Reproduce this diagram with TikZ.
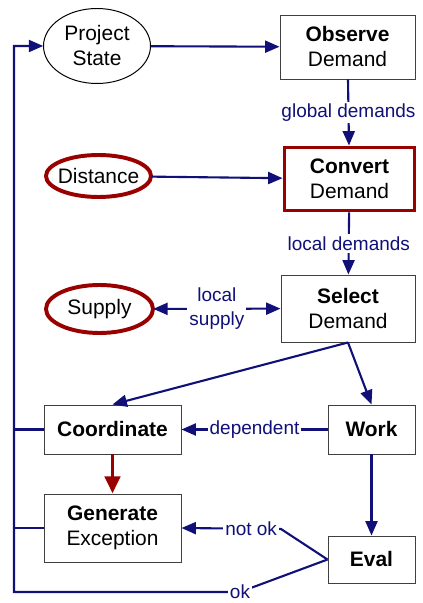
\documentclass[tikz,border=0pt]{standalone}
\usepackage{fontspec}
\setmainfont{Liberation Sans}
\usetikzlibrary{arrows.meta}
\definecolor{flownavy}{RGB}{16,16,120}
\definecolor{alertred}{RGB}{153,0,0}
\definecolor{boxgray}{RGB}{64,64,64}
\begin{document}
\begin{tikzpicture}[
    every node/.style={font=\fontsize{14.9}{17.8}\selectfont, align=center},
    box/.style={draw=boxgray, line width=0.7pt, rectangle, inner sep=0pt},
    blob/.style={rectangle, inner sep=0pt},
    hot/.style={draw=alertred, line width=2.8pt},
    flow/.style={draw=flownavy, line width=1.5pt, -{Triangle[length=3.6mm,width=3mm]}},
    link/.style={draw=flownavy, line width=1.5pt},
    lbl/.style={fill=white, text=flownavy, inner sep=1.5pt, font=\fontsize{13.5}{16}\selectfont}
  ]
        \useasboundingbox (0,0) rectangle (10.55,-15.075);
        % Nodes
        \node (state) at (2.425,-1.15) [blob, minimum width=2.675cm, minimum height=1.875cm] {Project\\State};
        \node (observe) at (8.6875,-1.175) [box, minimum width=3.375cm, minimum height=1.6cm] {\textbf{Observe}\\Demand};
        \node (distance) at (2.4625,-4.4) [blob, minimum width=2.625cm, minimum height=1.05cm] {Distance};
        \node (convert) at (8.7375,-4.475) [box, hot, minimum width=3.25cm, minimum height=1.575cm] {\textbf{Convert}\\Demand};
        \node (supply) at (2.4875,-7.725) [blob, minimum width=2.675cm, minimum height=1.2cm] {Supply};
        \node (select) at (8.7,-7.7125) [box, minimum width=3.35cm, minimum height=1.675cm] {\textbf{Select}\\Demand};
        \node (coord) at (2.8125,-10.7375) [box, minimum width=3.425cm, minimum height=1.225cm] {\textbf{Coordinate}};
        \node (work) at (9.2875,-10.7375) [box, minimum width=2.175cm, minimum height=1.225cm] {\textbf{Work}};
        \node (gen) at (2.8125,-13.2) [box, minimum width=3.425cm, minimum height=1.7cm] {\textbf{Generate}\\Exception};
        \node (eval) at (9.2875,-13.9875) [box, minimum width=2.175cm, minimum height=1.175cm] {\textbf{Eval}};

        % Ellipse outlines
        \draw[draw=black, line width=0.7pt] (state.center) ellipse [x radius=1.3375cm, y radius=0.9375cm];
        \draw[hot] (distance.center) ellipse [x radius=1.3125cm, y radius=0.525cm];
        \draw[hot] (supply.center) ellipse [x radius=1.3375cm, y radius=0.6cm];

        % Coordinates
        \coordinate (notokturn) at (7.025,-13.225);
        \coordinate (okturn) at (6.0,-14.8);
        \coordinate (loopbl) at (0.35,-14.8);

        % Connectors
        \draw[flow] (state) -- (observe);
        \draw[flow] (distance) -- (convert);
        \draw[flow] (observe) -- node[lbl] {global demands} (convert);
        \draw[flow] (convert) -- node[lbl] {local demands} (select);
        \draw[flow, {Triangle[length=3.6mm,width=3mm]}-{Triangle[length=3.6mm,width=3mm]}] (supply) -- node[lbl, font=\fontsize{13.5}{17}\selectfont] {local\\supply} (select);
        \draw[flow] (select.south) -- (coord.north);
        \draw[flow] (select.south) -- (work.north);
        \draw[flow] (work) -- node[lbl] {dependent} (coord);
        \draw[flow] (work) -- (eval);
        \draw[draw=alertred, line width=2.8pt, -{Triangle[length=4.3mm,width=3.8mm]}] (coord) -- (gen);
        \draw[flow] (eval.west) -- (notokturn) -- node[lbl, pos=0.3] {not ok} (gen.east);
        \draw[flow] (eval.west) -- (okturn) node[lbl] {ok} -- (loopbl) |- (state.west);
        \draw[link] (coord.west) -- (coord.west -| loopbl);
        \draw[link] (gen.west) -- (gen.west -| loopbl);
\end{tikzpicture}
\end{document}
